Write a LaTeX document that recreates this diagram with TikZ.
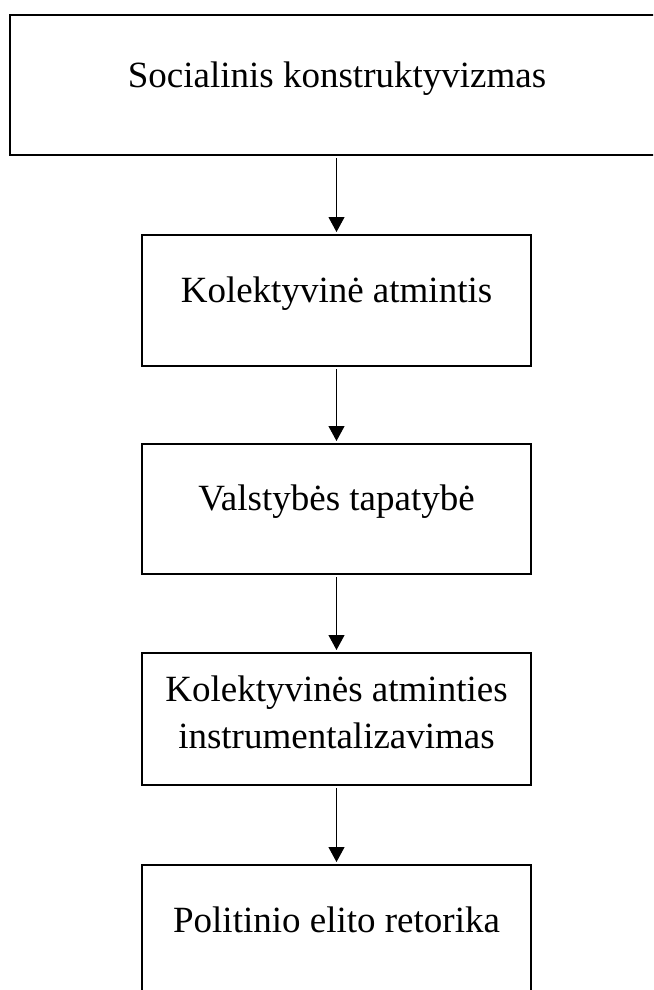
\documentclass[tikz,border=0pt]{standalone}
\usepackage{fontspec}
\setmainfont{Liberation Serif}
\usetikzlibrary{arrows.meta}
\begin{document}
\begin{tikzpicture}[x=1pt,y=-1pt,
  box/.style={draw=black,line width=2pt,inner sep=0pt,outer sep=0pt,fill=white},
  lbl/.style={anchor=base,inner sep=0pt,font=\fontsize{37}{47}\selectfont,align=center},
  arr/.style={line width=1.1pt,-{Triangle[width=16pt,length=15pt]},shorten >=3pt,shorten <=3pt}]
\useasboundingbox (0,0) rectangle (653,990);
\clip (0,0) rectangle (653,990);
\node[box,minimum width=670pt,minimum height=140pt] (b1) at (345,85) {};
\node[box,minimum width=389pt,minimum height=131pt] (b2) at (336.5,300.5) {};
\node[box,minimum width=389pt,minimum height=130pt] (b3) at (336.5,509) {};
\node[box,minimum width=389pt,minimum height=132pt] (b4) at (336.5,719) {};
\node[box,minimum width=389pt,minimum height=150pt] (b5) at (336.5,940) {};
\node[lbl] (t1) at (337,87) {Socialinis konstruktyvizmas};
\node[lbl] (t2) at (336.5,302) {Kolektyvinė atmintis};
\node[lbl] (t3) at (336.5,510) {Valstybės tapatybė};
\node[lbl] (t4) at (336.5,748) {Kolektyvinės atminties\\instrumentalizavimas};
\node[lbl] (t5) at (336.5,932) {Politinio elito retorika};
\draw[arr] (b1.south -| b2.north) -- (b2.north);
\draw[arr] (b2.south) -- (b3.north);
\draw[arr] (b3.south) -- (b4.north);
\draw[arr] (b4.south) -- (b5.north);
\end{tikzpicture}
\end{document}
